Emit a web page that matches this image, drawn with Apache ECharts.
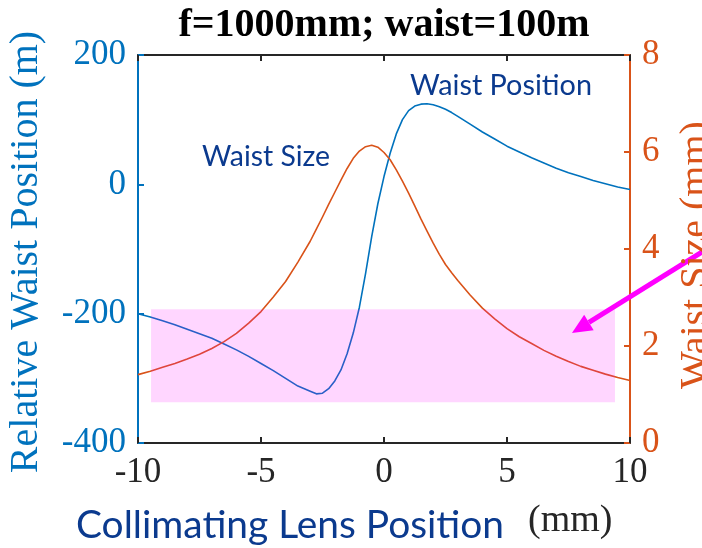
<!DOCTYPE html>
<html><head><meta charset="utf-8">
<script src="https://cdn.jsdelivr.net/npm/echarts@6/dist/echarts.min.js"></script>
<style>html,body{margin:0;padding:0;background:#fff}#c{width:702px;height:548px}</style>
</head><body><div id="c"></div>
<script>
// Collimating lens position (mm)
const lensPos = [-10,-9.5,-9,-8.5,-8,-7.5,-7,-6.5,-6,-5.5,-5,-4.5,-4,-3.5,
  -3,-2.75,-2.5,-2.25,-2,-1.75,-1.5,-1.25,-1,-0.75,-0.5,-0.25,0,0.25,0.5,0.75,1,1.25,1.5,1.75,2,2.25,2.5,2.75,3,
  3.5,4,4.5,5,5.5,6,6.5,7,7.5,8,8.5,9,9.5,10];
// Relative waist position (m), left axis
const waistPosition = [-200,-205,-211,-217,-224,-231,-238,-247,-256,-266,-277,-288,-300,-312,
  -320,-324,-323,-316,-304,-287,-262,-230,-190,-138,-81,-30,12,48,78,100,114,121,124,124.5,123,120,116,111,105,
  93,81,70,59,50,41,33,25,18,12,6,1,-4,-8];
// Waist size (mm), right axis
const waistSize = [1.41,1.48,1.56,1.64,1.73,1.83,1.95,2.09,2.26,2.47,2.71,3.01,3.33,3.73,
  4.16,4.41,4.66,4.92,5.17,5.42,5.66,5.87,6.02,6.11,6.14,6.10,5.99,5.84,5.63,5.40,5.15,4.89,4.62,4.37,4.12,3.89,3.68,3.51,3.35,
  3.05,2.78,2.56,2.36,2.19,2.05,1.91,1.79,1.68,1.58,1.50,1.42,1.35,1.29];
// axis ranges / ticks
const xRange = [-10, 10, 5];
const leftRange = [-400, 200, 200];
const rightRange = [0, 8, 2];
// highlighted band (x range, left-axis range) and arrow tip (data coords)
const bandX = [-9.47, 9.39];
const bandY = [-193, -337];
const arrowTip = [7.64, -230];

const SERIF = "'Liberation Serif','Times New Roman',serif";
const SANS = "Lato,'Open Sans',sans-serif";
const BLUE = '#0072BD', ORANGE = '#D95319', DARK = '#262626', NAVY = '#0b3a8e';

const mctx = document.createElement('canvas').getContext('2d');
function fit(text, family, weight, target) {
  mctx.font = weight + ' 100px ' + family;
  return 100 * target / mctx.measureText(text).width;
}

const chart = echarts.init(document.getElementById('c'), null, {renderer: 'canvas'});
const tickLabel = (c) => ({color: c, fontFamily: SERIF, fontSize: 35, margin: 12});
const axisBase = (c) => ({
  axisLine: {show: true, onZero: false, lineStyle: {color: c, width: 2}},
  axisTick: {show: true, inside: true, length: 6, lineStyle: {color: c, width: 2}},
  splitLine: {show: false}
});
chart.setOption({
  animation: false,
  grid: {left: 138, right: 72, top: 55, bottom: 105, containLabel: false},
  xAxis: [
    Object.assign({type: 'value', min: xRange[0], max: xRange[1], interval: xRange[2], position: 'bottom',
      axisLabel: tickLabel(DARK)}, axisBase(DARK)),
    Object.assign({type: 'value', min: xRange[0], max: xRange[1], interval: xRange[2], position: 'top',
      axisLabel: {show: false}}, axisBase(DARK))
  ],
  yAxis: [
    Object.assign({type: 'value', min: leftRange[0], max: leftRange[1], interval: leftRange[2], position: 'left',
      axisLabel: tickLabel(BLUE)}, axisBase(BLUE)),
    Object.assign({type: 'value', min: rightRange[0], max: rightRange[1], interval: rightRange[2], position: 'right',
      axisLabel: tickLabel(ORANGE)}, axisBase(ORANGE))
  ],
  series: [
    {type: 'line', name: 'Waist Position', yAxisIndex: 0, showSymbol: false, smooth: false,
      data: lensPos.map((x, i) => [x, waistPosition[i]]), lineStyle: {color: BLUE, width: 1.6, join: 'round'}, z: 3},
    {type: 'line', name: 'Waist Size', yAxisIndex: 1, showSymbol: false, smooth: false,
      data: lensPos.map((x, i) => [x, waistSize[i]]), lineStyle: {color: ORANGE, width: 1.6, join: 'round'}, z: 3}
  ]
});

const p1 = chart.convertToPixel({xAxisIndex: 0, yAxisIndex: 0}, [bandX[0], bandY[0]]);
const p2 = chart.convertToPixel({xAxisIndex: 0, yAxisIndex: 0}, [bandX[1], bandY[1]]);
const tip = chart.convertToPixel({xAxisIndex: 0, yAxisIndex: 0}, arrowTip);
const dir = [130, -81]; const L = Math.hypot(dir[0], dir[1]); const u = [dir[0]/L, dir[1]/L];
const headLen = 20, headW = 9;
const base = [tip[0] + u[0]*headLen, tip[1] + u[1]*headLen];
const nrm = [-u[1], u[0]];
const tail = [tip[0] + u[0]*200, tip[1] + u[1]*200];

const titleText = 'f=1000mm; waist=100m';
const xName1 = 'Collimating Lens Position';
const fsX = fit(xName1, SANS, 'normal', 428);
const fsWP = fit('Waist Position', SANS, 'normal', 182);
const fsWS = fit('Waist Size', SANS, 'normal', 128);

chart.setOption({graphic: [
  {type: 'rect', z: 50, shape: {x: p1[0], y: p1[1], width: p2[0]-p1[0], height: p2[1]-p1[1]},
    style: {fill: 'rgba(255,0,255,0.16)'}, silent: true},
  {type: 'line', z: 60, shape: {x1: tail[0], y1: tail[1], x2: base[0], y2: base[1]},
    style: {stroke: '#FF00FF', lineWidth: 5}},
  {type: 'polygon', z: 60, shape: {points: [tip, [base[0]+nrm[0]*headW, base[1]+nrm[1]*headW], [base[0]-nrm[0]*headW, base[1]-nrm[1]*headW]]},
    style: {fill: '#FF00FF'}},
  {type: 'text', z: 70, x: 384, y: 26, style: {text: titleText, font: 'bold 40px ' + SERIF, fill: '#000', align: 'center', verticalAlign: 'middle'}},
  {type: 'text', z: 70, x: 26, y: 252, rotation: Math.PI/2, style: {text: 'Relative Waist Position (m)', font: '40px ' + SERIF, fill: BLUE, align: 'center', verticalAlign: 'middle'}},
  {type: 'text', z: 70, x: 696, y: 255, rotation: Math.PI/2, style: {text: 'Waist Size (mm)', font: '40px ' + SERIF, fill: ORANGE, align: 'center', verticalAlign: 'middle'}},
  {type: 'text', z: 70, x: 76, y: 525, style: {text: xName1, font: fsX.toFixed(1) + 'px ' + SANS, fill: NAVY, align: 'left', verticalAlign: 'middle'}},
  {type: 'text', z: 70, x: 528, y: 521, style: {text: '(mm)', font: '38px ' + SERIF, fill: DARK, align: 'left', verticalAlign: 'middle'}},
  {type: 'text', z: 70, x: 410, y: 86, style: {text: 'Waist Position', font: fsWP.toFixed(1) + 'px ' + SANS, fill: NAVY, align: 'left', verticalAlign: 'middle'}},
  {type: 'text', z: 70, x: 202, y: 157, style: {text: 'Waist Size', font: fsWS.toFixed(1) + 'px ' + SANS, fill: NAVY, align: 'left', verticalAlign: 'middle'}}
]});
</script>
</body></html>
